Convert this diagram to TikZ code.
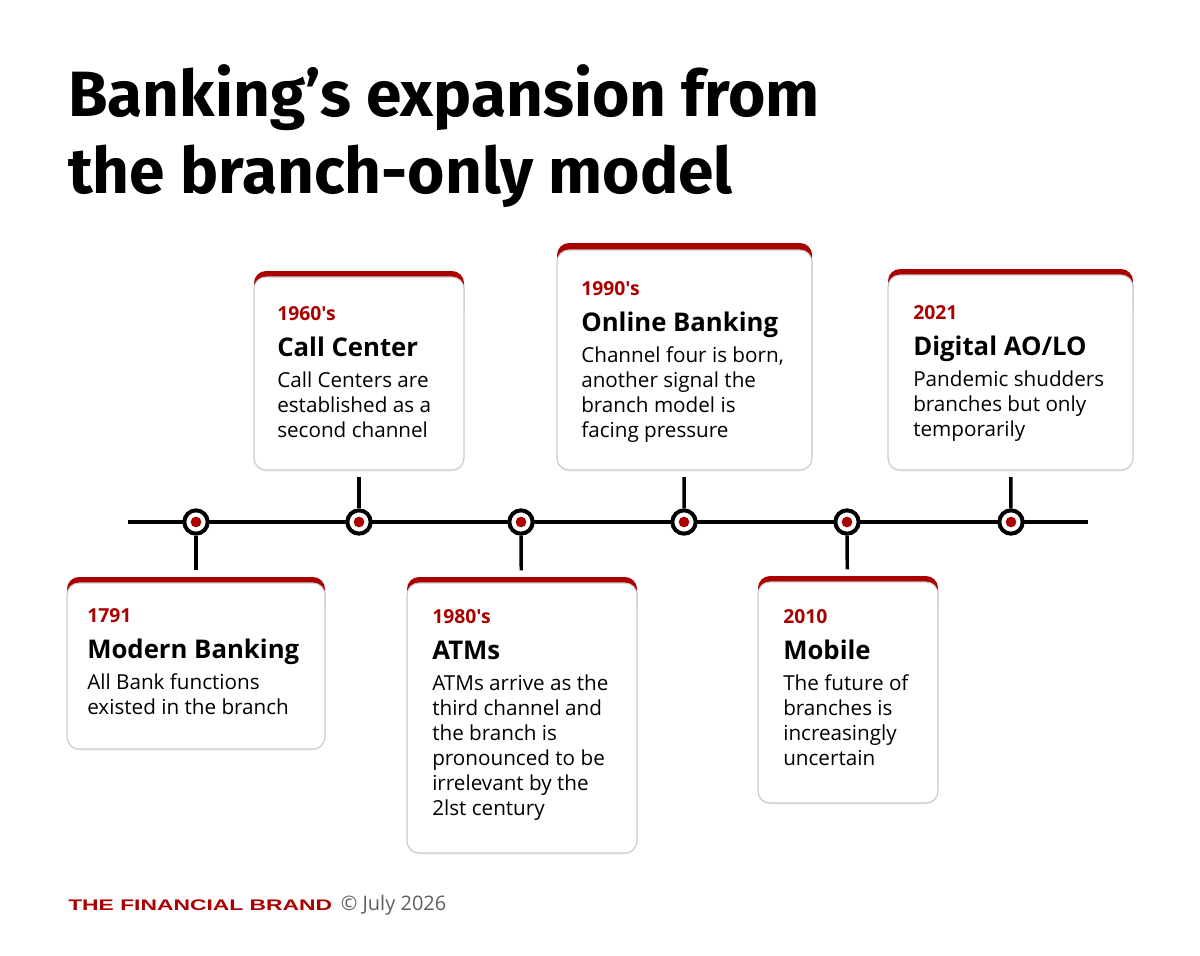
\documentclass[tikz,border=0pt]{standalone}
\usepackage{fontspec}
\defaultfontfeatures{}
\defaultfontfeatures[\rmfamily]{}
\setmainfont{Open Sans}
\newfontfamily\headfont{Fira Sans}
\newfontfamily\brandfont{Liberation Sans}
\usetikzlibrary{positioning,calc,fit,shadows}
\definecolor{brandred}{RGB}{170,0,0}
\definecolor{cardline}{RGB}{200,200,200}
\definecolor{footgray}{RGB}{95,95,95}
\newcommand{\toplines}[1]{\begin{tabular}[t]{@{}l@{}}#1\end{tabular}}
\tikzset{
  cardbox/.style={draw=cardline,fill=white,rounded corners=9pt,
                  line width=0.8pt,inner sep=0pt,
                  drop shadow={opacity=0.12,shadow xshift=0pt,shadow yshift=-1.2pt}},
  redcap/.style={fill=brandred,rounded corners=9pt},
  yeartxt/.style={anchor=base west,inner sep=0pt,text=brandred,
                  font=\bfseries\fontsize{14.5}{17}\selectfont},
  headtxt/.style={anchor=base west,inner sep=0pt,
                  font=\bfseries\fontsize{19.3}{23}\selectfont},
  bodytxt/.style={anchor=base west,inner sep=0pt,
                  font=\fontsize{15.5}{18.75}\selectfont},
  tldot/.style={circle,draw=black,fill=white,line width=3pt,
                minimum size=17.5pt,inner sep=0pt},
  axis/.style={line width=2.6pt},
  stem/.style={line width=2.6pt},
}

\begin{document}
\begin{tikzpicture}[x=0.75pt,y=-0.75pt]
    \useasboundingbox (0,0) rectangle (1200,956);
    \fill[white] (0,0) rectangle (1200,956);

    \node[anchor=base west,inner sep=0pt,
          font=\headfont\bfseries\fontsize{48}{57.75}\selectfont] (title) at (68,117)
          {\toplines{Banking’s expansion from\\the branch-only model}};

    % timeline
    \coordinate (ls) at (128,522);
    \coordinate (le) at (1088,522);
    \draw[axis] (ls) -- (le);
    \foreach \i/\x in {1/196,2/359,3/521,4/684,5/847,6/1011}{
      \node[tldot] (d\i) at (\x,522) {};
      \fill[brandred] (d\i.center) circle (4pt);
    }

    % cards
    \fill[redcap] (67,577) rectangle (325,620);
    \node[cardbox,fit={(67,583) (325,749)}] (c1) {};
    \fill[redcap] (254,271) rectangle (464,320);
    \node[cardbox,fit={(254,277) (464,470)}] (c2) {};
    \fill[redcap] (407,577) rectangle (637,620);
    \node[cardbox,fit={(407,583) (637,853)}] (c3) {};
    \fill[redcap] (557,243) rectangle (812,290);
    \node[cardbox,fit={(557,250) (812,470)}] (c4) {};
    \fill[redcap] (758,576) rectangle (938,620);
    \node[cardbox,fit={(758,582) (938,803)}] (c5) {};
    \fill[redcap] (888,269) rectangle (1133,320);
    \node[cardbox,fit={(888,275) (1133,470)}] (c6) {};

    \draw[stem,shorten >=9pt] (d1) -- (c1);
    \draw[stem,shorten >=5pt] (d2) -- (c2);
    \draw[stem,shorten >=9pt] (d3) -- (c3);
    \draw[stem,shorten >=5pt] (d4) -- (c4);
    \draw[stem,shorten >=9pt] (d5) -- (c5);
    \draw[stem,shorten >=5pt] (d6) -- (c6);

    \node[yeartxt] (y1) at (87,622) {1791};
    \node[headtxt] (h1) at ($(y1.base west)+(0,36)$) {Modern Banking};
    \node[bodytxt] (b1) at ($(y1.base west)+(0,67)$) {\toplines{All Bank functions\\existed in the branch}};

    \node[yeartxt] (y2) at (277,320) {1960's};
    \node[headtxt] (h2) at ($(y2.base west)+(0,36)$) {Call Center};
    \node[bodytxt] (b2) at ($(y2.base west)+(0,67)$) {\toplines{Call Centers are\\established as a\\second channel}};

    \node[yeartxt] (y3) at (432,623) {1980's};
    \node[headtxt] (h3) at ($(y3.base west)+(0,36)$) {ATMs};
    \node[bodytxt] (b3) at ($(y3.base west)+(0,67)$) {\toplines{ATMs arrive as the\\third channel and\\the branch is\\pronounced to be\\irrelevant by the\\2lst century}};

    \node[yeartxt] (y4) at (581,295) {1990's};
    \node[headtxt] (h4) at ($(y4.base west)+(0,36)$) {Online Banking};
    \node[bodytxt] (b4) at ($(y4.base west)+(0,67)$) {\toplines{Channel four is born,\\another signal the\\branch model is\\facing pressure}};

    \node[yeartxt] (y5) at (783,623) {2010};
    \node[headtxt] (h5) at ($(y5.base west)+(0,36)$) {Mobile};
    \node[bodytxt] (b5) at ($(y5.base west)+(0,67)$) {\toplines{The future of\\branches is\\increasingly\\uncertain}};

    \node[yeartxt] (y6) at (913,319) {2021};
    \node[headtxt] (h6) at ($(y6.base west)+(0,36)$) {Digital AO/LO};
    \node[bodytxt] (b6) at ($(y6.base west)+(0,67)$) {\toplines{Pandemic shudders\\branches but only\\temporarily}};

    % footer
    \node[anchor=base west,inner sep=0pt,text=brandred,
          font=\brandfont\bfseries\fontsize{11.5}{14}\selectfont] (brand) at (68,910)
          {\scalebox{1.49}[1]{THE FINANCIAL BRAND}};
    \node[anchor=base west,inner sep=0pt,text=footgray,
          font=\fontsize{15}{18}\selectfont] (date) at ($(brand.base east)+(8,0)$)
          {© July 2026};
\end{tikzpicture}
\end{document}
